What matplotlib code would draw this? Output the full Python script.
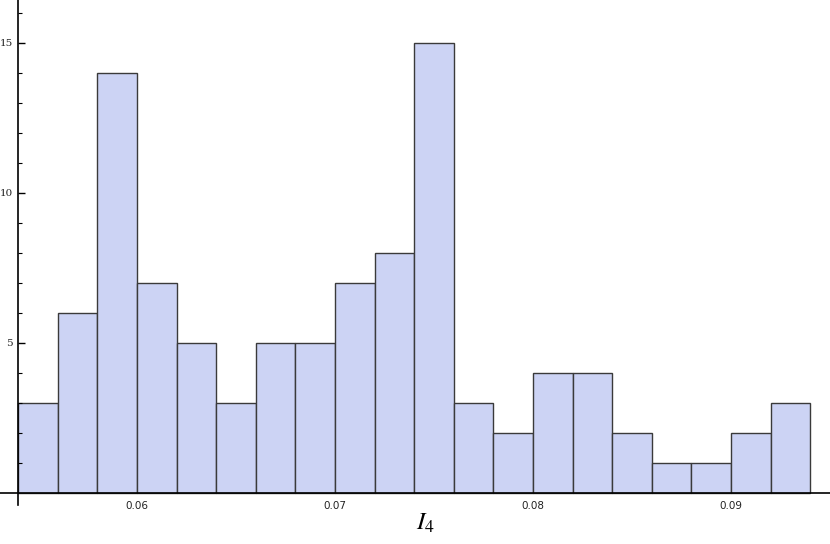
import matplotlib
matplotlib.use("Agg")
import matplotlib.pyplot as plt
import numpy as np

bin_edges = [0.054, 0.056, 0.058, 0.060, 0.062, 0.064, 0.066, 0.068, 0.070, 0.072,
             0.074, 0.076, 0.078, 0.080, 0.082, 0.084, 0.086, 0.088, 0.090, 0.092, 0.094]
counts = [3, 6, 14, 7, 5, 3, 5, 5, 7, 8, 15, 3, 2, 4, 4, 2, 1, 1, 2, 3]
x_ticks = [0.06, 0.07, 0.08, 0.09]
x_tick_labels = ["0.06", "0.07", "0.08", "0.09"]
y_ticks = [5, 10, 15]

plt.rcParams['mathtext.fontset'] = 'stix'
fig = plt.figure(figsize=(8.3, 5.44), dpi=100)
ax = fig.add_axes([0, 39/544, 1, 505/544])

lefts = np.array(bin_edges[:-1])
widths = np.diff(bin_edges)
ax.bar(lefts, counts, width=widths, align='edge', color='#ccd3f4',
       edgecolor='#3a3a3a', linewidth=1.0)

ax.set_xlim(0.05308, 0.0950)
ax.set_ylim(-0.4, 16.43)

ax.spines['top'].set_visible(False)
ax.spines['right'].set_visible(False)
ax.spines['left'].set_position(('data', bin_edges[0]))
ax.spines['bottom'].set_position(('data', 0))
ax.spines['left'].set_linewidth(1.2)
ax.spines['bottom'].set_linewidth(1.2)

ax.set_xticks(x_ticks)
ax.set_xticklabels(x_tick_labels, fontsize=7.5, color='#222222')
ax.tick_params(axis='x', length=0, pad=6)
ax.set_yticks(y_ticks)
ax.set_yticklabels([str(v) for v in y_ticks], fontsize=7.5, color='#222222',
                   family='DejaVu Serif')
ax.set_yticks(range(1, 17), minor=True)
ax.tick_params(axis='y', which='major', direction='in', length=5, width=1, pad=4)
ax.tick_params(axis='y', which='minor', direction='in', length=3, width=0.8)

fig.text(425/830, 1 - 523/544, r'$I_4$', fontsize=18, ha='center', va='center')

fig.savefig('out.png', dpi=100)
